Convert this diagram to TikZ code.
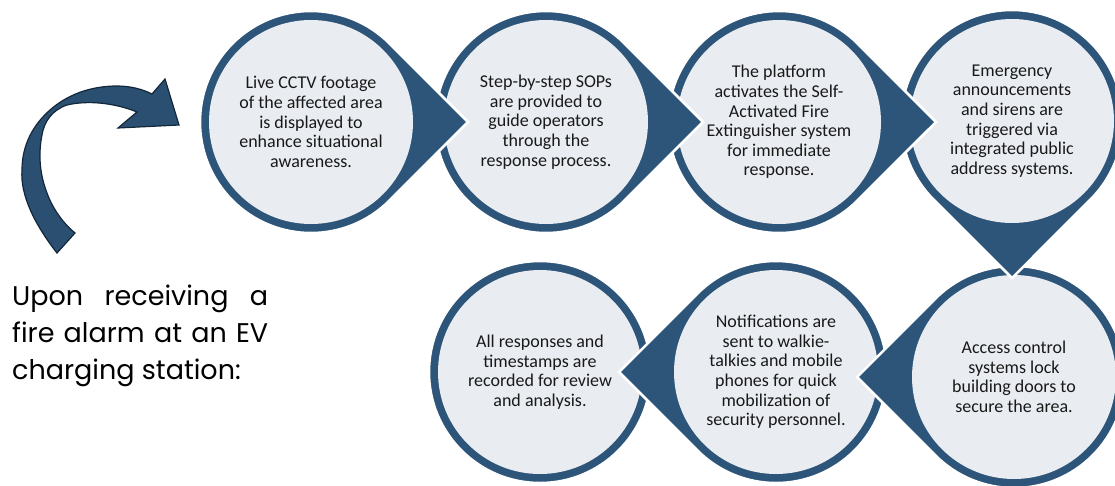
\documentclass[tikz,border=0pt]{standalone}
\usepackage{fontspec}
\setmainfont{Carlito}
\newfontfamily\introfont{Poppins}
\usetikzlibrary{calc}

\definecolor{ringblue}{HTML}{2D5479}
\definecolor{discfill}{HTML}{E9ECF1}
\definecolor{arrowblue}{HTML}{2A4F71}
\definecolor{arrowline}{HTML}{13273B}

\tikzset{
  stepdisc/.style={circle, fill=discfill, minimum size=204pt, inner sep=0pt,
    align=center, text=black!90, font=\fontsize{18}{19.6}\selectfont},
  ring/.style={fill=ringblue, draw=white, line width=2.5pt},
  introtext/.style={anchor=north west, inner sep=0pt, text width=256pt,
    align=justify, font=\introfont\fontsize{27}{37}\selectfont},
  bentarrow/.style={fill=arrowblue, draw=arrowline, line width=1.2pt, line join=miter},
}

% disc with a pointed tip: #1 centre, #2 direction of the tip
\newcommand{\droplet}[2]{%
  \path[ring] ($(#1)+(#2:157)$) -- ($(#1)+(#2+45:111)$)
    arc[start angle=#2+45, delta angle=270, radius=111] -- cycle;}

\begin{document}
\begin{tikzpicture}[x=1pt,y=-1pt]
  \useasboundingbox (0,0) rectangle (1115,485);
  \clip (0,0) rectangle (1115,485);

  % centres
  \coordinate (p1) at (311,122);
  \coordinate (p2) at (546,122);
  \coordinate (p3) at (779,122);
  \coordinate (p4) at (1012,121);
  \coordinate (p5) at (1014,377);
  \coordinate (p6) at (776,372);
  \coordinate (p7) at (540,372);

  % last step first, so every tip lies on top of the next disc
  \path[ring] (p7) circle[radius=111];
  \node[stepdisc] (c7) at (p7) {All responses and\\ timestamps are\\ recorded for review\\ and analysis.};

  \droplet{p6}{180}
  \node[stepdisc] (c6) at (p6) {Notifications are\\ sent to walkie-\\ talkies and mobile\\ phones for quick\\ mobilization of\\ security personnel.};

  \droplet{p5}{180}
  \node[stepdisc] (c5) at (p5) {Access control\\ systems lock\\ building doors to\\ secure the area.};

  \droplet{p4}{90}
  \node[stepdisc] (c4) at (p4) {Emergency\\ announcements\\ and sirens are\\ triggered via\\ integrated public\\ address systems.};

  \droplet{p3}{0}
  \node[stepdisc] (c3) at (p3) {The platform\\ activates the Self-\\ Activated Fire\\ Extinguisher system\\ for immediate\\ response.};

  \droplet{p2}{0}
  \node[stepdisc] (c2) at (p2) {Step-by-step SOPs\\ are provided to\\ guide operators\\ through the\\ response process.};

  \droplet{p1}{0}
  \node[stepdisc] (c1) at (p1) {Live CCTV footage\\ of the affected area\\ is displayed to\\ enhance situational\\ awareness.};

  % curved arrow into the first step
  \path[bentarrow] (57,253) .. controls (35,225) and (20,195) .. (22,170)
    .. controls (22,145) and (33,125) .. (50,110)
    .. controls (67,95) and (90,86) .. (117,86)
    .. controls (130,86) and (142,89) .. (152,94)
    -- (165,79) -- (179,125) -- (118,128) -- (137,112)
    .. controls (115,103) and (88,100) .. (67,105)
    .. controls (52,110) and (44,122) .. (42,135)
    .. controls (38,155) and (40,175) .. (47,193)
    .. controls (53,210) and (65,225) .. (75,233) -- cycle;

  \node[introtext] (intro) at (12,285) {Upon receiving a\linebreak fire alarm at an EV\linebreak charging station:};
\end{tikzpicture}
\end{document}
